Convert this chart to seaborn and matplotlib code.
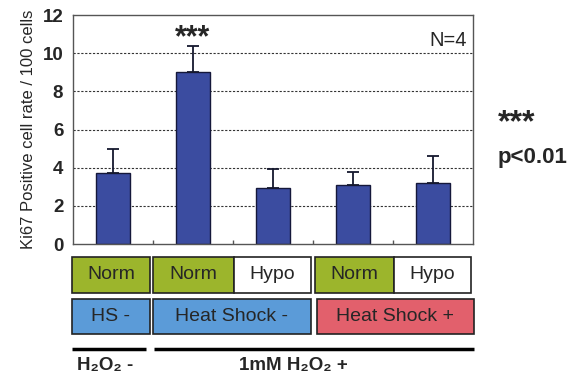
import matplotlib
matplotlib.use("Agg")
import matplotlib.pyplot as plt
import matplotlib.transforms as mtrans
from matplotlib.patches import Rectangle
import seaborn as sns
import pandas as pd

# ---- data ----
groups = ["HS- Norm", "HS- Norm (H2O2)", "HS- Hypo (H2O2)", "HS+ Norm (H2O2)", "HS+ Hypo (H2O2)"]
means = [3.7, 9.0, 2.95, 3.1, 3.2]
errors = [1.3, 1.4, 1.0, 0.65, 1.4]
y_ticks = [0, 2, 4, 6, 8, 10, 12]

row1_labels = ["Norm", "Norm", "Hypo", "Norm", "Hypo"]
row1_colors = ["#9cb52c", "#9cb52c", "#ffffff", "#9cb52c", "#ffffff"]
row1_spans = [(-0.51, 0.46), (0.50, 1.51), (1.51, 2.47), (2.52, 3.51), (3.51, 4.47)]
row2_labels = ["HS -", "Heat Shock -", "Heat Shock +"]
row2_colors = ["#5b9bd8", "#5b9bd8", "#e2606c"]
row2_spans = [(-0.51, 0.46), (0.50, 2.47), (2.55, 4.51)]
h2o2_labels = ["H\u2082O\u2082 -", "1mM H\u2082O\u2082 +"]
h2o2_spans = [(-0.51, 0.41), (0.51, 4.51)]

sns.set_style("white")
plt.rcParams["font.family"] = ["Liberation Sans", "DejaVu Sans"]

fig = plt.figure(figsize=(5.77, 3.79), dpi=100)
ax = fig.add_axes([0.1265, 0.3562, 0.6932, 0.6042])

df = pd.DataFrame({"group": groups, "mean": means})
sns.barplot(data=df, x="group", y="mean", ax=ax, color="#3b4ca0",
            width=0.42, edgecolor="#15183a", linewidth=1.0, saturation=1)
xs = list(range(len(groups)))
ax.errorbar(xs, means, yerr=[[0] * len(errors), errors], fmt="none",
            ecolor="#15182e", elinewidth=1.3, capsize=4, capthick=1.3, zorder=3)

ax.set_ylim(0, 12)
ax.set_xlim(-0.5, 4.5)
ax.set_yticks(y_ticks)
ax.set_yticklabels([str(t) for t in y_ticks], fontsize=13.5, fontweight="bold")
for t in y_ticks[1:-1]:
    ax.axhline(t, color="#333333", linestyle=(0, (2, 1.5)), linewidth=0.8, zorder=0)
ax.set_xticks([])
ax.set_xticks([0.5, 1.5, 2.5, 3.5], minor=True)
ax.tick_params(axis="x", which="minor", direction="in", length=3, width=1, color="#555555", bottom=True)
ax.tick_params(axis="y", length=0, pad=7)
ax.set_xlabel("")
ax.set_ylabel("Ki67 Positive cell rate / 100 cells", fontsize=12, labelpad=5)
for s in ax.spines.values():
    s.set_color("#555555")
    s.set_linewidth(1.0)

ax.text(1, 10.35, "***", ha="center", va="baseline", fontsize=22, fontweight="bold")
ax.text(0.985, 0.93, "N=4", transform=ax.transAxes, ha="right", va="top", fontsize=14.5)

trans = mtrans.blended_transform_factory(ax.transData, ax.transAxes)
for (x0, x1), lab, col in zip(row1_spans, row1_labels, row1_colors):
    ax.add_patch(Rectangle((x0, -0.214), x1 - x0, 0.157, transform=trans, clip_on=False,
                           facecolor=col, edgecolor="#222222", linewidth=1.2))
    ax.text((x0 + x1) / 2, -0.135, lab, transform=trans, ha="center", va="center", fontsize=14)
for (x0, x1), lab, col in zip(row2_spans, row2_labels, row2_colors):
    ax.add_patch(Rectangle((x0, -0.393), x1 - x0, 0.153, transform=trans, clip_on=False,
                           facecolor=col, edgecolor="#222222", linewidth=1.2))
    ax.text((x0 + x1) / 2, -0.316, lab, transform=trans, ha="center", va="center", fontsize=14)
for (x0, x1), lab in zip(h2o2_spans, h2o2_labels):
    ax.plot([x0, x1], [-0.459, -0.459], transform=trans, clip_on=False, color="black", linewidth=2.5,
            solid_capstyle="butt")
    ax.text((x0 + x1) / 2 - (0.05 if x0 < 0 else 0.25), -0.53, lab, transform=trans, ha="center",
            va="center", fontsize=13.5, fontweight="bold")

fig.text(498 / 577, 1 - 131 / 379, "***", ha="left", va="baseline", fontsize=23, fontweight="bold")
fig.text(498 / 577, 1 - 158 / 379, "p<0.01", ha="left", va="center", fontsize=16, fontweight="bold")

fig.savefig("out.png", dpi=100)
